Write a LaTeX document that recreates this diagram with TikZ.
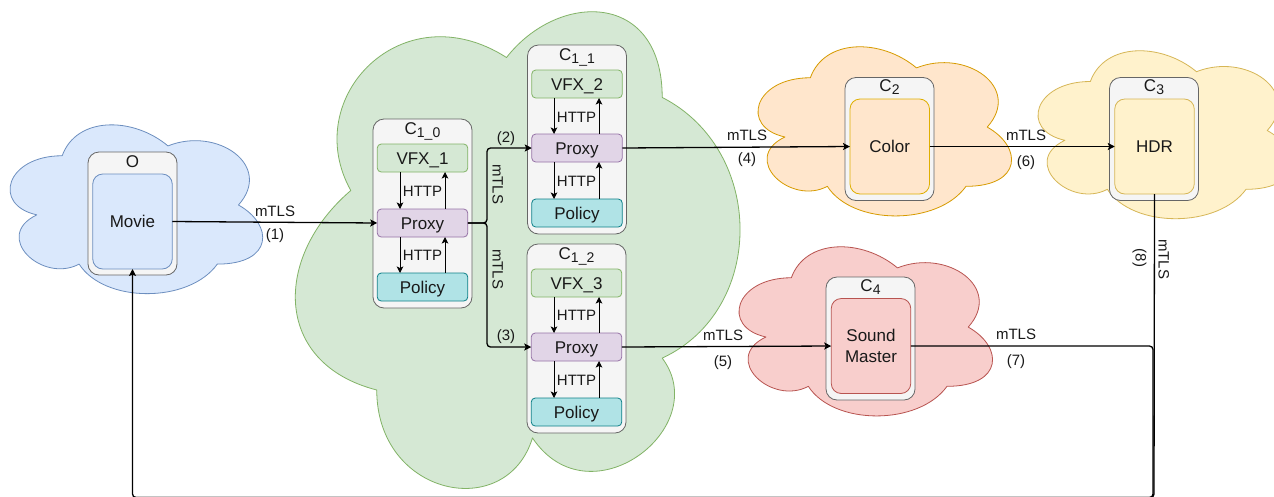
\documentclass[tikz,border=0pt]{standalone}
\usepackage{fontspec}
\setmainfont{Liberation Sans}
\usetikzlibrary{arrows.meta}
\definecolor{blueF}{HTML}{DAE8FC}\definecolor{blueD}{HTML}{6C8EBF}
\definecolor{greenF}{HTML}{D5E8D4}\definecolor{greenD}{HTML}{82B366}
\definecolor{orangeF}{HTML}{FFE6CC}\definecolor{orangeD}{HTML}{D79B00}
\definecolor{yellowF}{HTML}{FFF2CC}\definecolor{yellowD}{HTML}{D6B656}
\definecolor{redF}{HTML}{F8CECC}\definecolor{redD}{HTML}{B85450}
\definecolor{purpleF}{HTML}{E1D5E7}\definecolor{purpleD}{HTML}{9673A6}
\definecolor{tealF}{HTML}{B0E3E6}\definecolor{tealD}{HTML}{0E8088}
\definecolor{grayF}{HTML}{F5F5F5}\definecolor{grayD}{HTML}{666666}
\newcommand\cloudpath{(.25,.25) .. controls (.05,.25) and (0,.5) .. (.16,.55) .. controls (0,.66) and (.18,.9) .. (.31,.8) .. controls (.4,1) and (.7,1) .. (.8,.8) .. controls (1,.8) and (1,.6) .. (.875,.5) .. controls (1,.3) and (.8,.1) .. (.625,.2) .. controls (.5,.05) and (.3,.05) .. (.25,.25) -- cycle}
\newcommand\subs[1]{\raisebox{-3.5pt}{\fontsize{14}{14}\selectfont #1}}
\tikzset{
  x=1pt,y=-1pt,
  cloudshape/.style={line width=.8pt,line join=round},
  hostbox/.style={draw=grayD,fill=grayF,line width=.8pt,rounded corners=11pt,inner sep=0pt,outer sep=0pt,minimum width=89pt,minimum height=123pt},
  podbox/.style={draw=grayD,fill=grayF,line width=.8pt,rounded corners=11pt,inner sep=0pt,outer sep=0pt,minimum width=99pt,minimum height=189pt},
  appbox/.style={line width=.8pt,rounded corners=10pt,inner sep=0pt,outer sep=0pt,minimum width=79.5pt,minimum height=95pt,align=center,font=\fontsize{17}{21}\selectfont,text=black!90},
  svcbox/.style={line width=.8pt,rounded corners=4pt,inner sep=0pt,outer sep=0pt,minimum width=90.5pt,minimum height=28pt,font=\fontsize{17}{20}\selectfont,text=black!90,text height=12.2pt,text depth=0pt},
  vfx/.style={svcbox,draw=greenD,fill=greenF},
  proxy/.style={svcbox,draw=purpleD,fill=purpleF},
  policy/.style={svcbox,draw=tealD,fill=tealF},
  titlelab/.style={anchor=base,inner sep=0pt,font=\fontsize{17}{20}\selectfont,text=black!90},
  lab/.style={inner sep=0pt,font=\fontsize{15}{16}\selectfont,text=black!90,text height=10.8pt,text depth=0pt},
  vlab/.style={lab,rotate=-90},
  conn/.style={draw=black,line width=1.3pt,rounded corners=3.5pt,-{Stealth[length=7pt,width=7pt,inset=1.5pt]}},
  connplain/.style={draw=black,line width=1.3pt,rounded corners=3.5pt},
  inner/.style={draw=black,line width=1pt,-{Stealth[length=6.5pt,width=6.5pt,inset=1.5pt]}}
}
\begin{document}
\begin{tikzpicture}
\useasboundingbox (0,0) rectangle (1274,496);
\clip (0,0) rectangle (1274,496);
\fill[white] (0,0) rectangle (1274,496);
% clouds
\begin{scope}[shift={(-8.3pt,-106.5pt)},x={(282pt,0pt)},y={(0pt,-197pt)}]
  \path[cloudshape,fill=blueF,draw=blueD] \cloudpath;
\end{scope}
\begin{scope}[shift={(247pt,-523pt)},x={(0pt,532pt)},y={(519pt,0pt)}]
  \path[cloudshape,fill=greenF,draw=greenD] \cloudpath;
\end{scope}
\begin{scope}[shift={(739.6pt,-28.4pt)},x={(283pt,0pt)},y={(0pt,-197.4pt)}]
  \path[cloudshape,fill=orangeF,draw=orangeD] \cloudpath;
\end{scope}
\begin{scope}[shift={(1019.6pt,-32.5pt)},x={(283pt,0pt)},y={(0pt,-196pt)}]
  \path[cloudshape,fill=yellowF,draw=yellowD] \cloudpath;
\end{scope}
\begin{scope}[shift={(720.6pt,-228.4pt)},x={(283pt,0pt)},y={(0pt,-197.4pt)}]
  \path[cloudshape,fill=redF,draw=redD] \cloudpath;
\end{scope}
% host boxes
\node[hostbox] (boxO) at (132.5,213.5) {};
\node[titlelab] (tO) at (132.5,167) {O};
\node[appbox,draw=blueD,fill=blueF] (movie) at (132.5,221.5) {Movie};

\node[hostbox] (boxC2) at (889.5,139) {};
\node[titlelab] (tC2) at (889.5,91) {C\subs{2}};
\node[appbox,draw=orangeD!80!yellow,fill=orangeF] (color) at (889.75,146.5) {Color};

\node[hostbox] (boxC3) at (1154,139) {};
\node[titlelab] (tC3) at (1154,91) {C\subs{3}};
\node[appbox,draw=yellowD,fill=yellowF] (hdr) at (1154.5,146.5) {HDR};

\node[hostbox] (boxC4) at (870.5,338.5) {};
\node[titlelab] (tC4) at (870.5,291) {C\subs{4}};
\node[appbox,draw=redD,fill=redF] (sound) at (871,346) {Sound\\Master};

% pods
\node[podbox] (pod0) at (422.5,213.5) {};
\node[titlelab] (t0) at (422.5,134) {C\subs{1\_0}};
\node[vfx] (v1) at (422.5,158) {VFX\_1};
\node[proxy] (p0) at (422.5,223) {Proxy};
\node[policy] (pol0) at (422.5,287) {Policy};

\node[podbox] (pod1) at (577,139.5) {};
\node[titlelab] (t1) at (577,60) {C\subs{1\_1}};
\node[vfx] (v2) at (577,84) {VFX\_2};
\node[proxy] (p1) at (577,148) {Proxy};
\node[policy] (pol1) at (577,213) {Policy};

\node[podbox] (pod2) at (576.5,338.5) {};
\node[titlelab] (t2) at (576.5,259) {C\subs{1\_2}};
\node[vfx] (v3) at (576.5,283) {VFX\_3};
\node[proxy] (p2) at (576.5,347) {Proxy};
\node[policy] (pol2) at (576.5,412) {Policy};

% inner arrows
\draw[inner] (v1.south -| 400,0) -- (p0.north -| 400,0);
\draw[inner] (p0.north -| 445,0) -- (v1.south -| 445,0);
\draw[inner] (p0.south -| 400,0) -- (pol0.north -| 400,0);
\draw[inner] (pol0.north -| 445,0) -- (p0.south -| 445,0);
\draw[inner] (v2.south -| 554,0) -- (p1.north -| 554,0);
\draw[inner] (p1.north -| 599,0) -- (v2.south -| 599,0);
\draw[inner] (p1.south -| 554,0) -- (pol1.north -| 554,0);
\draw[inner] (pol1.north -| 599,0) -- (p1.south -| 599,0);
\draw[inner] (v3.south -| 554,0) -- (p2.north -| 554,0);
\draw[inner] (p2.north -| 599,0) -- (v3.south -| 599,0);
\draw[inner] (p2.south -| 554,0) -- (pol2.north -| 554,0);
\draw[inner] (pol2.north -| 599,0) -- (p2.south -| 599,0);
\node[lab] (h1) at (422.5,191) {HTTP};
\node[lab] (h2) at (422.5,255) {HTTP};
\node[lab] (h3) at (576.5,117) {HTTP};
\node[lab] (h4) at (576.5,181) {HTTP};
\node[lab] (h5) at (576.5,315) {HTTP};
\node[lab] (h6) at (576.5,380) {HTTP};

% connectors
\coordinate (j0) at (487,223);
\coordinate (j1) at (487,148);
\coordinate (j2) at (487,347);
\coordinate (corner7) at (1153,346);
\coordinate (br7) at (1153,497.5);
\coordinate (br8) at (1154,497.5);
\coordinate (bl) at (132.5,497.5);
\draw[conn] (movie.east) -- (p0.west);
\draw[conn] (p0.east) -- (j0) -- (j1) -- (p1.west);
\draw[conn] (p0.east) -- (j0) -- (j2) -- (p2.west);
\draw[conn] (p1.east) -- (color.west);
\draw[conn] (color.east) -- (hdr.west);
\draw[conn] (p2.east) -- (sound.west);
\draw[conn] (sound.east) -- (corner7) -- (br7) -- (bl) -- (movie.south);
\draw[connplain] (hdr.south) -- (br8) -- (bl);

% labels
\node[lab] (m1) at (275,211) {mTLS};
\node[lab] (n1) at (275,234) {(1)};
\node[lab] (n2) at (506,137.5) {(2)};
\node[vlab] (m2) at (498,184) {mTLS};
\node[vlab] (m3) at (498,269) {mTLS};
\node[lab] (n3) at (506,335.5) {(3)};
\node[lab] (m4) at (747,135) {mTLS};
\node[lab] (n4) at (747,158.5) {(4)};
\node[lab] (m5) at (723,335) {mTLS};
\node[lab] (n5) at (723,361) {(5)};
\node[lab] (m6) at (1026,135) {mTLS};
\node[lab] (n6) at (1026,161) {(6)};
\node[lab] (m7) at (1016,334) {mTLS};
\node[lab] (n7) at (1016,360) {(7)};
\node[vlab] (m8) at (1164,259) {mTLS};
\node[vlab] (n8) at (1141,258) {(8)};
\end{tikzpicture}
\end{document}
